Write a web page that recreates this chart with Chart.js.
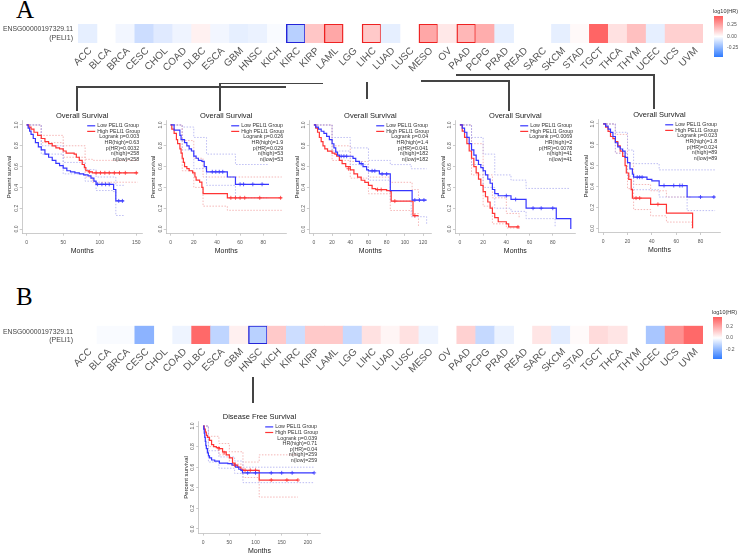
<!DOCTYPE html>
<html>
<head>
<meta charset="utf-8">
<script src="https://cdn.jsdelivr.net/npm/chart.js@4.4.0/dist/chart.umd.min.js"></script>
<style>
  body { margin: 0; background: #fff; }
  #fig { position: relative; width: 744px; height: 558px; overflow: hidden; font-family: "Liberation Sans", Arial, Helvetica, sans-serif; }
  #fig canvas, #fig .abs { position: absolute; }
</style>
</head>
<body>
<div id="fig"></div>
<script>
// ---- heatmap data ----
const cancers = ['ACC','BLCA','BRCA','CESC','CHOL','COAD','DLBC','ESCA','GBM','HNSC','KICH','KIRC','KIRP','LAML','LGG','LIHC','LUAD','LUSC','MESO','OV','PAAD','PCPG','PRAD','READ','SARC','SKCM','STAD','TGCT','THCA','THYM','UCEC','UCS','UVM'];
// log10(HR), overall survival (null = not shown)
const osLog10HR = [-0.055,null,-0.03,-0.115,-0.07,-0.037,0.04,-0.03,-0.055,-0.046,-0.014,-0.16,0.16,0.245,null,0.15,-0.055,null,0.245,0.065,0.2,0.23,-0.055,null,null,-0.055,0.018,0.43,0.083,0.175,-0.055,0.13,0.13];
const osSignificant = ['KIRC','LAML','LIHC','MESO','PAAD'];
// log10(HR), disease free survival
const dfsLog10HR = [null,-0.01,-0.01,-0.18,null,-0.026,0.29,-0.1,0.03,-0.11,0.105,-0.08,0.105,0.105,-0.09,0.058,0.02,0.058,-0.026,null,0.09,-0.09,-0.032,null,0.05,-0.045,0.01,0.07,0.05,null,-0.135,0.215,0.29];
const dfsSignificant = ['HNSC'];
const osBarTicks = ['0.25', '0.00', '-0.25'];
const dfsBarTicks = ['0.2', '0.0', '-0.2'];
const geneLabel = ['ENSG00000197329.11', '(PELI1)'];

// ---- survival curves [months, survival] ----
const kircLow = [[0,1],[2,0.97],[4,0.94],[6,0.91],[9,0.87],[12,0.83],[16,0.79],[20,0.76],[25,0.72],[30,0.69],[35,0.66],[40,0.63],[45,0.61],[50,0.585],[55,0.56],[60,0.55],[66,0.54],[72,0.53],[78,0.52],[84,0.51],[88,0.49],[92,0.46],[95,0.43],[118,0.43],[119,0.38],[122,0.27],[133,0.27]];
const kircHigh = [[0,1],[3,0.98],[6,0.96],[10,0.93],[15,0.9],[20,0.87],[25,0.84],[30,0.82],[35,0.8],[40,0.78],[45,0.77],[50,0.75],[54,0.73],[65,0.72],[68,0.69],[72,0.66],[76,0.62],[79,0.59],[81,0.56],[85,0.55],[90,0.54],[152,0.54]];
const kircLowUp = [[0,1],[20,0.8],[50,0.64],[80,0.57],[95,0.5],[118,0.5],[122,0.42],[133,0.42]];
const kircLowDn = [[0,1],[20,0.72],[50,0.53],[80,0.46],[95,0.37],[118,0.36],[122,0.13],[133,0.13]];
const kircHighUp = [[0,1],[20,0.9],[50,0.8],[80,0.67],[90,0.66],[152,0.66]];
const kircHighDn = [[0,1],[20,0.83],[50,0.69],[80,0.5],[90,0.45],[152,0.45]];
const kircLowCens = [[97,0.43],[103,0.43],[108,0.43],[113,0.43],[126,0.27],[131,0.27]];
const kircHighCens = [[86,0.55],[95,0.54],[101,0.54],[107,0.54],[113,0.54],[120,0.54],[127,0.54],[135,0.54],[150,0.54]];

const lamlLow = [[0,1],[3,0.95],[8,0.9],[9,0.86],[12,0.83],[14,0.8],[16,0.77],[18,0.75],[20,0.7],[22,0.68],[24,0.66],[27,0.65],[29,0.6],[31,0.55],[48,0.55],[49,0.5],[55,0.5],[56,0.43],[85,0.43]];
const lamlHigh = [[0,1],[1,0.96],[3,0.92],[5,0.86],[6,0.82],[8,0.77],[9,0.73],[10,0.68],[11,0.64],[12,0.6],[14,0.58],[16,0.56],[19,0.54],[21,0.5],[22,0.47],[25,0.45],[27,0.4],[28,0.34],[48,0.34],[49,0.3],[96,0.3]];
const lamlLowUp = [[0,1],[10,0.98],[20,0.88],[31,0.72],[48,0.72],[56,0.62],[85,0.62]];
const lamlLowDn = [[0,1],[10,0.76],[20,0.58],[31,0.42],[48,0.42],[56,0.3],[85,0.3]];
const lamlHighUp = [[0,1],[10,0.85],[20,0.68],[28,0.5],[96,0.5]];
const lamlHighDn = [[0,1],[10,0.56],[20,0.4],[28,0.22],[48,0.22],[49,0.18],[96,0.18]];
const lamlLowCens = [[36,0.55],[39,0.55],[42,0.55],[45,0.55],[60,0.43],[63,0.43],[71,0.43],[79,0.43]];
const lamlHighCens = [[52,0.3],[56,0.3],[60,0.3],[64,0.3],[77,0.3],[95,0.3]];

const lihcLow = [[0,1],[2,0.98],[5,0.96],[8,0.94],[11,0.92],[14,0.89],[17,0.86],[20,0.82],[22,0.78],[24,0.74],[26,0.71],[28,0.7],[40,0.7],[43,0.68],[46,0.65],[50,0.63],[54,0.6],[58,0.57],[60,0.56],[70,0.56],[72,0.53],[83,0.53],[84,0.37],[107,0.37],[108,0.28],[124,0.28]];
const lihcHigh = [[0,1],[2,0.97],[4,0.93],[6,0.88],[8,0.84],[10,0.8],[12,0.77],[15,0.75],[20,0.73],[23,0.72],[25,0.7],[28,0.66],[31,0.63],[35,0.6],[40,0.57],[44,0.53],[48,0.5],[52,0.47],[56,0.45],[60,0.42],[64,0.39],[68,0.38],[80,0.37],[84,0.36],[85,0.27],[108,0.27],[109,0.13],[115,0.13]];
const lihcLowUp = [[0,1],[20,0.88],[40,0.78],[60,0.66],[84,0.62],[107,0.58],[124,0.58]];
const lihcLowDn = [[0,1],[20,0.75],[40,0.62],[60,0.47],[84,0.27],[107,0.12],[124,0.05]];
const lihcHighUp = [[0,1],[20,0.8],[40,0.65],[60,0.5],[84,0.45],[108,0.38],[115,0.3]];
const lihcHighDn = [[0,1],[20,0.66],[40,0.49],[60,0.34],[84,0.18],[108,0.15],[115,0.03]];
const lihcLowCens = [[30,0.7],[33,0.7],[36,0.7],[52,0.63],[64,0.56],[67,0.56],[75,0.53],[80,0.53],[111,0.28],[116,0.28],[121,0.28]];
const lihcHighCens = [[38,0.58],[70,0.38],[74,0.38],[89,0.27],[111,0.13]];

const mesoLow = [[0,1],[2,0.97],[4,0.93],[6,0.88],[8,0.82],[10,0.76],[12,0.71],[14,0.66],[16,0.62],[18,0.59],[20,0.56],[22,0.52],[24,0.48],[26,0.44],[28,0.38],[30,0.34],[33,0.32],[43,0.32],[44,0.285],[56,0.285],[57,0.2],[82,0.2],[83,0.1],[95,0.1],[95.5,0]];
const mesoHigh = [[0,1],[2,0.94],[4,0.88],[6,0.82],[8,0.75],[10,0.68],[12,0.6],[14,0.54],[16,0.48],[18,0.42],[20,0.36],[22,0.31],[24,0.26],[26,0.2],[28,0.15],[30,0.11],[33,0.07],[40,0.05],[42,0.02],[51,0.02]];
const mesoLowUp = [[0,1],[10,0.88],[20,0.72],[30,0.52],[44,0.47],[57,0.39],[82,0.39],[95,0.39]];
const mesoLowDn = [[0,1],[10,0.62],[20,0.4],[30,0.2],[44,0.17],[57,0.1],[82,0.02]];
const mesoHighUp = [[0,1],[10,0.82],[20,0.52],[28,0.3],[40,0.15],[51,0.1]];
const mesoHighDn = [[0,1],[10,0.52],[20,0.22],[28,0.05],[40,0.01],[51,0]];
const mesoLowCens = [[40,0.32],[48,0.285],[63,0.2],[70,0.2],[80,0.2]];
const mesoHighCens = [[50,0.02]];

const paadLow = [[0,1],[2,0.98],[4,0.95],[6,0.92],[8,0.88],[10,0.82],[12,0.78],[14,0.76],[16,0.74],[18,0.68],[20,0.63],[22,0.57],[24,0.52],[25,0.49],[35,0.49],[36,0.47],[40,0.455],[46,0.41],[68,0.41],[69,0.3],[92,0.3]];
const paadHigh = [[0,1],[2,0.97],[4,0.93],[6,0.88],[8,0.86],[10,0.83],[12,0.79],[14,0.74],[16,0.69],[18,0.6],[19,0.53],[21,0.47],[23,0.37],[24,0.29],[38,0.29],[39,0.23],[51,0.23],[52,0.145],[73,0.145],[73.5,0]];
const paadLowUp = [[0,1],[10,0.92],[20,0.75],[25,0.62],[46,0.56],[92,0.56]];
const paadLowDn = [[0,1],[10,0.72],[20,0.5],[25,0.37],[46,0.3],[69,0.17],[92,0.17]];
const paadHighUp = [[0,1],[10,0.9],[20,0.62],[25,0.42],[39,0.36],[52,0.3],[73,0.3]];
const paadHighDn = [[0,1],[10,0.72],[20,0.38],[25,0.18],[39,0.12],[52,0.06],[73,0]];
const paadLowCens = [[28,0.49],[30,0.49],[32,0.49],[50,0.41],[58,0.41],[63,0.41],[65,0.41],[80,0.3],[91,0.3]];
const paadHighCens = [[27,0.29],[30,0.29],[45,0.23]];

const hnscLow = [[0,1],[1,0.97],[2,0.93],[3,0.89],[4,0.85],[5,0.81],[6,0.78],[8,0.74],[10,0.71],[12,0.69],[16,0.67],[22,0.66],[31,0.64],[47,0.635],[55,0.62],[62,0.6],[68,0.58],[72,0.57],[75,0.545],[212,0.545]];
const hnscHigh = [[0,1],[2,0.97],[4,0.94],[6,0.91],[8,0.89],[12,0.86],[16,0.82],[20,0.8],[25,0.79],[31,0.78],[37,0.75],[44,0.72],[50,0.69],[56,0.64],[61,0.62],[66,0.6],[72,0.58],[76,0.57],[106,0.57],[107,0.475],[181,0.475]];
const hnscLowUp = [[0,1],[10,0.76],[30,0.7],[60,0.66],[76,0.6],[212,0.6]];
const hnscLowDn = [[0,1],[10,0.65],[30,0.59],[60,0.54],[76,0.45],[212,0.45]];
const hnscHighUp = [[0,1],[10,0.9],[30,0.83],[50,0.75],[76,0.65],[107,0.72],[181,0.72]];
const hnscHighDn = [[0,1],[10,0.8],[30,0.72],[50,0.63],[76,0.5],[107,0.31],[181,0.31]];
const hnscLowCens = [[85,0.545],[100,0.545],[130,0.545],[150,0.545],[170,0.545],[212,0.545]];
const hnscHighCens = [[30,0.78],[40,0.74],[60,0.62],[80,0.57],[90,0.57],[100,0.57],[130,0.475],[160,0.475],[181,0.475]];

const FONT = '"Liberation Sans", Arial, Helvetica, sans-serif';
const BLUE = '#3636ff', RED = '#ff3434', BLUE_CI = '#adadf0', RED_CI = '#f2a6a6';
const fig = document.getElementById('fig');

function place(css, text) {
  const d = document.createElement('div');
  d.className = 'abs';
  d.style.cssText = css;
  if (text !== undefined) d.textContent = text;
  fig.appendChild(d);
  return d;
}

function addCanvas(left, top, w, h) {
  const c = document.createElement('canvas');
  c.width = w; c.height = h;
  c.style.cssText = `left:${left}px;top:${top}px;width:${w}px;height:${h}px`;
  fig.appendChild(c);
  return c;
}

function cellColor(v, m) {
  if (v === null) return 'rgba(0,0,0,0)';
  const t = Math.min(Math.abs(v) / m, 1);
  const end = v >= 0 ? [255, 90, 90] : [50, 120, 255];
  const c = end.map(e => Math.round(255 + (e - 255) * t));
  return `rgb(${c[0]},${c[1]},${c[2]})`;
}

// row label and colour key, drawn on the heatmap canvas
const heatExtras = {
  id: 'heatExtras',
  afterDraw(chart, args, o) {
    const ctx = chart.ctx;
    ctx.save();
    ctx.fillStyle = '#444';
    ctx.font = `7px ${FONT}`;
    ctx.textAlign = 'right';
    ctx.textBaseline = 'middle';
    ctx.fillText(geneLabel[0], 73, o.rowY[0], 70);
    ctx.fillText(geneLabel[1], 73, o.rowY[1], 70);
    const { left, top, bottom, ticks } = o.bar;
    const g = ctx.createLinearGradient(0, top, 0, bottom);
    g.addColorStop(0, 'rgb(255,92,92)');
    g.addColorStop(0.5, '#ffffff');
    g.addColorStop(1, 'rgb(46,122,255)');
    ctx.fillStyle = g;
    ctx.fillRect(left, top, 9, bottom - top);
    ctx.fillStyle = '#333';
    ctx.textAlign = 'left';
    ctx.font = `5.5px ${FONT}`;
    ctx.fillText('log10(HR)', left - 1, top - 5);
    ctx.fillStyle = '#555';
    ctx.font = `5px ${FONT}`;
    ticks.forEach((t, i) => {
      ctx.fillText(t, left + 13, top + (bottom - top) * (0.22 + 0.28 * i));
    });
    ctx.restore();
  }
};

function heatmap(top, height, cellTop, cellBottom, values, marked, maxAbs, rowY, bar) {
  const cv = addCanvas(0, top, 744, height);
  new Chart(cv, {
    type: 'bar',
    data: {
      labels: cancers,
      datasets: [{
        data: values.map(v => v === null ? null : 1),
        backgroundColor: values.map(v => cellColor(v, maxAbs)),
        borderColor: values.map(v => v >= 0 ? '#ee2222' : '#2424d8'),
        borderWidth: cancers.map(c => marked.includes(c) ? 1.4 : 0),
        borderSkipped: false,
        barPercentage: 1,
        categoryPercentage: 1
      }]
    },
    options: {
      responsive: false, animation: false, events: [],
      layout: { padding: { left: 78, right: 41, top: cellTop - top, bottom: 0 } },
      plugins: {
        legend: { display: false }, tooltip: { enabled: false },
        heatExtras: { rowY: rowY.map(y => y - top), bar: { left: bar.left, top: bar.top - top, bottom: bar.bottom - top, ticks: bar.ticks } }
      },
      scales: {
        x: {
          grid: { display: false, drawTicks: false },
          border: { display: false },
          ticks: { autoSkip: false, minRotation: 45, maxRotation: 45, padding: 2, labelOffset: 3, color: '#555', font: { family: FONT, size: 10 } },
          afterFit: s => { s.height = top + height - cellBottom; }
        },
        y: { display: false, min: 0, max: 1 }
      }
    },
    plugins: [heatExtras]
  });
}

const kmText = {
  id: 'kmText',
  afterDraw(chart, args, opts) {
    const { ctx, chartArea: a } = chart;
    ctx.save();
    ctx.fillStyle = '#222';
    ctx.font = `7.5px ${FONT}`;
    ctx.textAlign = 'center';
    ctx.textBaseline = 'middle';
    ctx.fillText(opts.title, (a.left + a.right) / 2, a.top - 5);
    ctx.font = `5.3px ${FONT}`;
    const rx = a.right - 3;
    const tx = rx - 42;
    let y = a.top + 5;
    [['Low PELI1 Group', BLUE], ['High PELI1 Group', RED]].forEach(([t, c]) => {
      ctx.strokeStyle = c; ctx.lineWidth = 1.2;
      ctx.beginPath(); ctx.moveTo(tx - 10, y); ctx.lineTo(tx - 2, y); ctx.stroke();
      ctx.textAlign = 'left'; ctx.fillStyle = '#333';
      ctx.fillText(t, tx, y);
      y += 5.6;
    });
    ctx.textAlign = 'right';
    opts.stats.forEach(s => { ctx.fillText(s, rx, y); y += 5.6; });
    ctx.restore();
  }
};

const xy = pts => pts.map(([x, y]) => ({ x, y }));

function kmChart(p) {
  const yW = 16, xH = 22, padT = 12;
  const [aL, aT, aR, aB] = p.area;
  const left = Math.floor(aL - yW), top = Math.floor(aT - padT);
  const w = Math.ceil(aR + 2 - left), h = Math.ceil(aB + xH - top);
  const cv = addCanvas(left, top, w, h);
  const line = (pts, color, width, dash) => ({ data: xy(pts), borderColor: color, borderWidth: width, borderDash: dash || [], stepped: 'before', pointRadius: 0, fill: false });
  const cens = (pts, color) => ({ data: xy(pts), showLine: false, pointStyle: 'cross', pointRadius: 2, borderColor: color, borderWidth: 0.8 });
  const tickFont = { family: FONT, size: 5 };
  new Chart(cv, {
    type: 'line',
    data: {
      datasets: [
        cens(p.lowCens, BLUE), cens(p.highCens, RED),
        line(p.low, BLUE, 1.2), line(p.high, RED, 1.2),
        line(p.lowUp, BLUE_CI, 0.8, [1.5, 1.5]), line(p.lowDn, BLUE_CI, 0.8, [1.5, 1.5]),
        line(p.highUp, RED_CI, 0.8, [1.5, 1.5]), line(p.highDn, RED_CI, 0.8, [1.5, 1.5])
      ]
    },
    options: {
      responsive: false, animation: false, events: [],
      layout: { padding: { left: aL - yW - left, top: aT - top, right: left + w - aR, bottom: top + h - aB - xH } },
      plugins: { legend: { display: false }, tooltip: { enabled: false }, kmText: { title: p.title, stats: p.stats } },
      scales: {
        x: {
          type: 'linear', min: p.xmin, max: p.xmax,
          afterBuildTicks: s => { s.ticks = p.xticks.map(v => ({ value: v })); },
          afterFit: s => { s.height = xH; },
          grid: { drawOnChartArea: false, tickLength: 2.5, color: '#aaa', lineWidth: 0.6 },
          border: { color: '#aaa', width: 0.6 },
          ticks: { color: '#555', font: tickFont, padding: 4, maxRotation: 0, callback: v => v },
          title: { display: true, text: 'Months', color: '#222', font: { family: FONT, size: 7 }, padding: 0 }
        },
        y: {
          min: -0.04, max: 1.04,
          afterBuildTicks: s => { s.ticks = [0, 0.2, 0.4, 0.6, 0.8, 1].map(v => ({ value: v })); },
          afterFit: s => { s.width = yW; },
          grid: { drawOnChartArea: false, tickLength: 2.5, color: '#aaa', lineWidth: 0.6 },
          border: { color: '#aaa', width: 0.6 },
          ticks: { color: '#555', font: tickFont, padding: 0, minRotation: 90, maxRotation: 90, crossAlign: 'center', callback: v => v.toFixed(1) },
          title: { display: true, text: 'Percent survival', color: '#222', font: { family: FONT, size: 6 }, padding: 0 }
        }
      }
    },
    plugins: [kmText]
  });
}

function connector(x1, y1, x2, y2) {
  const l = Math.min(x1, x2), t = Math.min(y1, y2);
  place(`left:${l - 0.6}px;top:${t - 0.6}px;width:${Math.abs(x2 - x1) + 1.2}px;height:${Math.abs(y2 - y1) + 1.2}px;background:#444`);
}

// ---- panel A ----
place('left:16px;top:-3px;font-family:"Liberation Serif","Times New Roman",serif;font-size:25px;line-height:25px;color:#000', 'A');
heatmap(0, 85, 24, 43, osLog10HR, osSignificant, 0.46, [29, 38], { left: 714, top: 16, bottom: 57, ticks: osBarTicks });

connector(77, 87, 285, 87); connector(77, 87, 77, 110);
connector(220, 83.5, 322, 83.5); connector(220, 83.5, 220, 110);
connector(367, 83, 367, 98);
connector(422, 81, 509, 81); connector(509, 81, 509, 110);
connector(457, 75, 654, 75); connector(654, 75, 654, 108);

const osTitle = 'Overall Survival';
kmChart({ area: [22.2, 120.8, 144.3, 233.2], xmin: -6.1, xmax: 158.1, xticks: [0, 50, 100, 150], title: osTitle,
  stats: ['Logrank p=0.003', 'HR(high)=0.63', 'p(HR)=0.0032', 'n(high)=258', 'n(low)=258'],
  low: kircLow, high: kircHigh, lowUp: kircLowUp, lowDn: kircLowDn, highUp: kircHighUp, highDn: kircHighDn, lowCens: kircLowCens, highCens: kircHighCens });
kmChart({ area: [166.2, 120.8, 288.8, 233.2], xmin: -3.84, xmax: 99.84, xticks: [0, 20, 40, 60, 80], title: osTitle,
  stats: ['Logrank p=0.026', 'HR(high)=1.9', 'p(HR)=0.029', 'n(high)=53', 'n(low)=53'],
  low: lamlLow, high: lamlHigh, lowUp: lamlLowUp, lowDn: lamlLowDn, highUp: lamlHighUp, highDn: lamlHighDn, lowCens: lamlLowCens, highCens: lamlHighCens });
kmChart({ area: [309.4, 120.8, 433.3, 233.4], xmin: -4.96, xmax: 129, xticks: [0, 20, 40, 60, 80, 100, 120], title: osTitle,
  stats: ['Logrank p=0.04', 'HR(high)=1.4', 'p(HR)=0.041', 'n(high)=182', 'n(low)=182'],
  low: lihcLow, high: lihcHigh, lowUp: lihcLowUp, lowDn: lihcLowDn, highUp: lihcHighUp, highDn: lihcHighDn, lowCens: lihcLowCens, highCens: lihcHighCens });
kmChart({ area: [455.5, 120.8, 577.9, 233.2], xmin: -3.8, xmax: 99.3, xticks: [0, 20, 40, 60, 80], title: osTitle,
  stats: ['Logrank p=0.0069', 'HR(high)=2', 'p(HR)=0.0078', 'n(high)=41', 'n(low)=41'],
  low: mesoLow, high: mesoHigh, lowUp: mesoLowUp, lowDn: mesoLowDn, highUp: mesoHighUp, highDn: mesoHighDn, lowCens: mesoLowCens, highCens: mesoHighCens });
kmChart({ area: [598.7, 119.8, 722.9, 232.5], xmin: -3.7, xmax: 96.2, xticks: [0, 20, 40, 60, 80], title: osTitle,
  stats: ['Logrank p=0.023', 'HR(high)=1.8', 'p(HR)=0.024', 'n(high)=89', 'n(low)=89'],
  low: paadLow, high: paadHigh, lowUp: paadLowUp, lowDn: paadLowDn, highUp: paadHighUp, highDn: paadHighDn, lowCens: paadLowCens, highCens: paadHighCens });

// ---- panel B ----
place('left:16px;top:284px;font-family:"Liberation Serif","Times New Roman",serif;font-size:25px;line-height:25px;color:#000', 'B');
heatmap(300, 88, 325.7, 344, dfsLog10HR, dfsSignificant, 0.32, [331.7, 340], { left: 713, top: 317, bottom: 359, ticks: dfsBarTicks });
connector(253, 378, 253, 402);

kmChart({ area: [198.7, 421.9, 322.5, 533.1], xmin: -8.6, xmax: 223.6, xticks: [0, 50, 100, 150, 200], title: 'Disease Free Survival',
  stats: ['Logrank p=0.039', 'HR(high)=0.71', 'p(HR)=0.04', 'n(high)=259', 'n(low)=259'],
  low: hnscLow, high: hnscHigh, lowUp: hnscLowUp, lowDn: hnscLowDn, highUp: hnscHighUp, highDn: hnscHighDn, lowCens: hnscLowCens, highCens: hnscHighCens });
</script>
</body>
</html>
